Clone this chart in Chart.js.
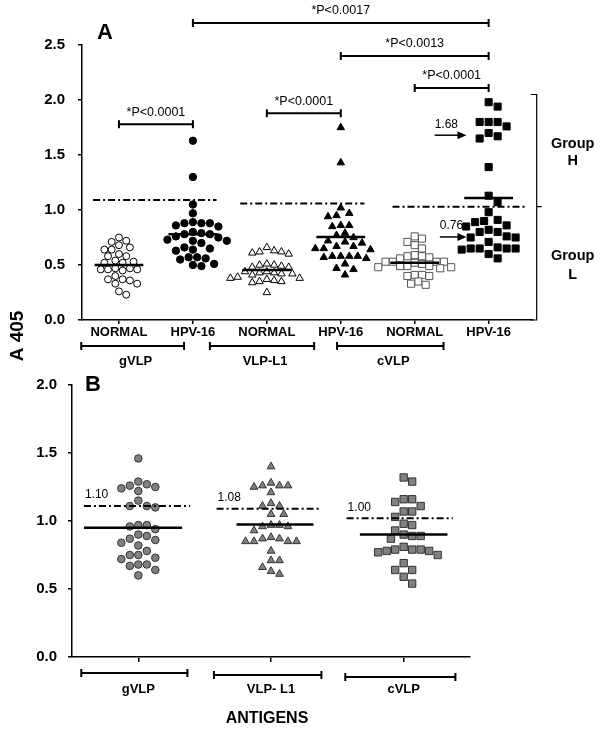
<!DOCTYPE html>
<html>
<head>
<meta charset="utf-8">
<script src="https://cdn.jsdelivr.net/npm/chart.js@4.4.1/dist/chart.umd.min.js"></script>
<style>
  html, body { margin: 0; padding: 0; background: #fff; }
  #wrap { position: relative; width: 600px; height: 733px; }
  #cA { position: absolute; left: 0; top: 0; }
  #cB { position: absolute; left: 0; top: 365px; }
</style>
</head>
<body>
<div id="wrap">
  <canvas id="cA" width="600" height="372"></canvas>
  <canvas id="cB" width="600" height="368"></canvas>
</div>
<script>
// ---- panel A data ----
const catsA = ['NORMAL', 'HPV-16', 'NORMAL', 'HPV-16', 'NORMAL', 'HPV-16'];
const groupsA = ['gVLP', 'VLP-L1', 'cVLP'];
const gvlpNormal = [0.75,0.72,0.71,0.68,0.66,0.64,0.64,0.60,0.58,0.58,0.54,0.53,0.52,0.52,0.47,0.47,0.46,0.46,0.45,0.46,0.40,0.37,0.37,0.36,0.33,0.33,0.26,0.23];
const gvlpHpv = [1.63,1.30,1.05,0.97,0.89,0.88,0.88,0.88,0.86,0.85,0.80,0.79,0.78,0.78,0.76,0.75,0.73,0.72,0.72,0.70,0.66,0.65,0.64,0.63,0.57,0.57,0.56,0.55,0.51,0.50,0.49];
const vlpNormal = [0.66,0.63,0.62,0.62,0.61,0.60,0.51,0.50,0.50,0.49,0.48,0.48,0.44,0.44,0.43,0.43,0.42,0.42,0.41,0.39,0.38,0.38,0.37,0.36,0.35,0.35,0.34,0.25];
const vlpHpv = [1.75,1.43,1.02,0.97,0.95,0.94,0.86,0.86,0.85,0.79,0.77,0.75,0.72,0.71,0.70,0.67,0.67,0.65,0.65,0.64,0.58,0.58,0.58,0.58,0.57,0.56,0.51,0.47,0.46,0.41];
const cvlpNormal = [0.76,0.74,0.71,0.68,0.65,0.59,0.58,0.58,0.57,0.56,0.53,0.53,0.53,0.53,0.52,0.51,0.49,0.49,0.49,0.48,0.48,0.47,0.41,0.41,0.40,0.40,0.35,0.33,0.32];
const cvlpHpv = [1.98,1.94,1.80,1.80,1.80,1.76,1.70,1.67,1.65,1.39,1.13,1.07,0.98,0.91,0.90,0.89,0.86,0.85,0.82,0.80,0.80,0.76,0.75,0.75,0.71,0.66,0.65,0.65,0.65,0.65,0.64,0.60,0.56];
const meansA = [0.50, 0.78, 0.455, 0.755, 0.52, 1.11];
const cutoffsA = [1.09, 1.06, 1.03];
// [from category, to category, height, label]
const pBarsA = [
  [1, 2, 1.78, '*P<0.0001'],
  [3, 4, 1.88, '*P<0.0001'],
  [5, 6, 2.11, '*P<0.0001'],
  [4, 6, 2.40, '*P<0.0013'],
  [2, 6, 2.70, '*P<0.0017']
];
const arrowsA = [[1.68, '1.68'], [0.755, '0.76']];

// ---- panel B data ----
const catsB = ['gVLP', 'VLP- L1', 'cVLP'];
const gvlpB = [1.46,1.29,1.27,1.26,1.25,1.24,1.22,1.15,1.11,1.11,1.10,0.97,0.97,0.96,0.94,0.90,0.89,0.87,0.86,0.84,0.82,0.78,0.75,0.75,0.73,0.72,0.68,0.68,0.67,0.64,0.60];
const vlpB = [1.40,1.28,1.26,1.26,1.26,1.25,1.21,1.13,1.11,1.11,1.05,1.05,0.97,0.97,0.96,0.96,0.93,0.88,0.87,0.87,0.85,0.85,0.85,0.85,0.78,0.71,0.71,0.66,0.63,0.61];
const cvlpB = [1.32,1.29,1.16,1.16,1.14,1.11,1.07,1.07,1.03,0.98,0.97,0.93,0.90,0.89,0.89,0.87,0.81,0.79,0.79,0.79,0.78,0.78,0.77,0.75,0.69,0.64,0.64,0.59,0.54];
const meansB = [0.95, 0.975, 0.90];
const cutoffsB = [1.11, 1.09, 1.02];
const cutLabelsB = ['1.10', '1.08', '1.00'];

const FONT = "'Liberation Sans', Arial, sans-serif";
Chart.defaults.font.family = FONT;
Chart.defaults.color = '#000';

// simple beeswarm: each value keeps its y, gets the nearest free x offset
// pxX / pxY = rough pixels per axis unit, d = marker spacing in pixels
function swarm(vals, pos, pxX, pxY, d) {
  const placed = [];
  vals.slice().sort((a, b) => b - a).forEach(v => {
    const y = v * pxY;
    for (let k = 0; ; k++) {
      const off = (k % 2 ? 1 : -1) * Math.ceil(k / 2) * d * 0.5;
      if (placed.every(p => Math.hypot(p.x - off, p.y - y) >= d)) { placed.push({ x: off, y: y }); break; }
    }
  });
  return placed.map(p => ({ x: pos + p.x / pxX, y: p.y / pxY }));
}

function hline(ctx, x1, x2, y, lw, dash) {
  ctx.save();
  ctx.lineWidth = lw;
  ctx.strokeStyle = '#000';
  if (dash) ctx.setLineDash(dash);
  ctx.beginPath(); ctx.moveTo(x1, y); ctx.lineTo(x2, y); ctx.stroke();
  ctx.restore();
}

function capBar(ctx, x1, x2, y, cap) {
  hline(ctx, x1, x2, y, 2);
  ctx.save();
  ctx.lineWidth = 2; ctx.strokeStyle = '#000';
  ctx.beginPath();
  ctx.moveTo(x1, y - cap); ctx.lineTo(x1, y + cap);
  ctx.moveTo(x2, y - cap); ctx.lineTo(x2, y + cap);
  ctx.stroke();
  ctx.restore();
}

function arrow(ctx, x1, x2, y) {
  hline(ctx, x1, x2 - 6, y, 1.5);
  ctx.beginPath();
  ctx.moveTo(x2, y); ctx.lineTo(x2 - 9, y - 4); ctx.lineTo(x2 - 9, y + 4); ctx.closePath();
  ctx.fillStyle = '#000'; ctx.fill();
}

function text(ctx, s, x, y, font, align) {
  ctx.font = font;
  ctx.fillStyle = '#000';
  ctx.textAlign = align || 'center';
  ctx.textBaseline = 'middle';
  ctx.fillText(s, x, y);
}

const marksA = {
  id: 'marksA',
  afterDatasetsDraw(chart) {
    const { ctx } = chart;
    const X = v => chart.scales.x.getPixelForValue(v);
    const Y = v => chart.scales.y.getPixelForValue(v);
    const bottom = chart.chartArea.bottom;
    ctx.save();
    meansA.forEach((m, i) => hline(ctx, X(i + 1 - 0.33), X(i + 1 + 0.33), Y(m), 2.5));
    const cutSpan = [[0.65, 2.32], [2.64, 4.32], [4.7, 6.5]];
    cutoffsA.forEach((c, g) => hline(ctx, X(cutSpan[g][0]), X(cutSpan[g][1]), Y(c), 2, [7, 3, 2, 3]));
    pBarsA.forEach(([a, b, h, s]) => {
      capBar(ctx, X(a), X(b), Y(h), 4);
      text(ctx, s, (X(a) + X(b)) / 2, Y(h) - 12, '12.5px ' + FONT);
    });
    arrowsA.forEach(([v, s], i) => {
      const x1 = X(i === 0 ? 5.27 : 5.34), x2 = X(5.7);
      arrow(ctx, x1, x2, Y(v));
      text(ctx, s, x1, Y(v) - 11, '12px ' + FONT, 'left');
    });
    // group H / L bracket
    const bx = X(6.65);
    ctx.lineWidth = 1.2; ctx.strokeStyle = '#000';
    ctx.beginPath();
    ctx.moveTo(bx - 6, Y(2.05)); ctx.lineTo(bx, Y(2.05)); ctx.lineTo(bx, Y(0)); ctx.lineTo(bx - 6, Y(0));
    ctx.moveTo(bx, Y(1.03)); ctx.lineTo(bx + 5, Y(1.03));
    ctx.stroke();
    text(ctx, 'Group', bx + 36, Y(1.60), 'bold 14.5px ' + FONT);
    text(ctx, 'H', bx + 36, Y(1.45), 'bold 14.5px ' + FONT);
    text(ctx, 'Group', bx + 36, Y(0.58), 'bold 14.5px ' + FONT);
    text(ctx, 'L', bx + 36, Y(0.41), 'bold 14.5px ' + FONT);
    // antigen brackets under the axis
    const spans = [[0.49, 1.88], [2.23, 3.64], [3.95, 5.39]];
    spans.forEach(([a, b], g) => {
      capBar(ctx, X(a), X(b), bottom + 26, 4);
      text(ctx, groupsA[g], (X(a) + X(b)) / 2 + 3, bottom + 41, 'bold 13px ' + FONT);
    });
    text(ctx, 'A', 97, 33, 'bold 22px ' + FONT, 'left');
    ctx.translate(18, 336);
    ctx.rotate(-Math.PI / 2);
    text(ctx, 'A 405', 0, 0, 'bold 19px ' + FONT);
    ctx.restore();
  }
};

const marksB = {
  id: 'marksB',
  afterDatasetsDraw(chart) {
    const { ctx } = chart;
    const X = v => chart.scales.x.getPixelForValue(v);
    const Y = v => chart.scales.y.getPixelForValue(v);
    const bottom = chart.chartArea.bottom;
    ctx.save();
    const meanSpan = [[0.59, 1.33], [1.74, 2.32], [2.67, 3.33]];
    meansB.forEach((m, i) => hline(ctx, X(meanSpan[i][0]), X(meanSpan[i][1]), Y(m), 2.5));
    const cutSpan = [[0.59, 1.39], [1.59, 2.38], [2.57, 3.37]];
    cutoffsB.forEach((c, g) => {
      hline(ctx, X(cutSpan[g][0]), X(cutSpan[g][1]), Y(c), 2, [7, 3, 2, 3]);
      text(ctx, cutLabelsB[g], X(cutSpan[g][0]) + 1, Y(c) - 11, '12px ' + FONT, 'left');
    });
    const spans = [[0.57, 1.37], [1.57, 2.38], [2.56, 3.39]];
    spans.forEach(([a, b], g) => capBar(ctx, X(a), X(b), bottom + 16 + g * 2, 4));
    text(ctx, 'B', 85, 20, 'bold 22px ' + FONT, 'left');
    text(ctx, 'ANTIGENS', 267, 354, 'bold 16px ' + FONT);
    ctx.restore();
  }
};

function yAxis(max, width, pad) {
  return {
    min: 0, max: max,
    afterFit: s => { s.width = width; },
    border: { display: true, color: '#000', width: 1.5 },
    grid: { display: true, drawOnChartArea: false, drawTicks: true, tickLength: 4, color: '#000', lineWidth: 1.5 },
    ticks: { stepSize: 0.5, padding: pad, font: { size: 15, weight: 'bold' }, callback: v => v.toFixed(1) }
  };
}

function xAxis(min, max, cats, height, tickLen, pad) {
  return {
    type: 'linear', min: min, max: max,
    afterFit: s => { s.height = height; },
    afterBuildTicks: s => { s.ticks = cats.map((c, i) => ({ value: i + 1 })); },
    border: { display: true, color: '#000', width: 1.5 },
    grid: { display: true, drawOnChartArea: false, drawTicks: true, tickLength: tickLen, color: '#000', lineWidth: 1.5 },
    ticks: { padding: pad, maxRotation: 0, autoSkip: false, font: { size: 13, weight: 'bold' }, callback: (v, i) => cats[i] }
  };
}

function set(data, style, r, fill, edge) {
  return { data: data, pointStyle: style, pointRadius: r, pointBackgroundColor: fill, pointBorderColor: edge, pointBorderWidth: 1, showLine: false, clip: false };
}

new Chart(document.getElementById('cA'), {
  type: 'scatter',
  data: {
    datasets: [
      set(swarm(gvlpNormal, 1, 74, 110, 7.3), 'circle', 3.5, '#fff', '#000'),
      set(swarm(gvlpHpv, 2, 74, 110, 8.5), 'circle', 3.7, '#000', '#000'),
      set(swarm(vlpNormal, 3, 74, 110, 7.3), 'triangle', 4.3, '#fff', '#000'),
      set(swarm(vlpHpv, 4, 74, 110, 8.5), 'triangle', 4.3, '#000', '#000'),
      set(swarm(cvlpNormal, 5, 74, 110, 7.3), 'rect', 5, '#fff', '#555'),
      set(swarm(cvlpHpv, 6, 74, 110, 9), 'rect', 5, '#000', '#000')
    ]
  },
  options: {
    responsive: false,
    animation: false,
    layout: { padding: { top: 45, right: 67, left: 0, bottom: 0 } },
    plugins: { legend: { display: false }, tooltip: { enabled: false } },
    scales: {
      x: xAxis(0.5, 6.6, catsA, 52, 4, 1),
      y: yAxis(2.5, 82, 13)
    }
  },
  plugins: [marksA]
});

new Chart(document.getElementById('cB'), {
  type: 'scatter',
  data: {
    datasets: [
      set(swarm(gvlpB, 1, 132.7, 141.5, 8.5), 'circle', 3.8, '#808080', '#333'),
      set(swarm(vlpB, 2, 132.7, 141.5, 8.5), 'triangle', 4.5, '#808080', '#333'),
      set(swarm(cvlpB, 3, 132.7, 141.5, 8.5), 'rect', 5.2, '#808080', '#333')
    ]
  },
  options: {
    responsive: false,
    animation: false,
    layout: { padding: { top: 9, right: 130, left: 0, bottom: 0 } },
    plugins: { legend: { display: false }, tooltip: { enabled: false } },
    scales: {
      x: xAxis(0.5, 3.5, catsB, 76, 5, 20),
      y: yAxis(2.0, 72, 11)
    }
  },
  plugins: [marksB]
});
</script>
</body>
</html>
